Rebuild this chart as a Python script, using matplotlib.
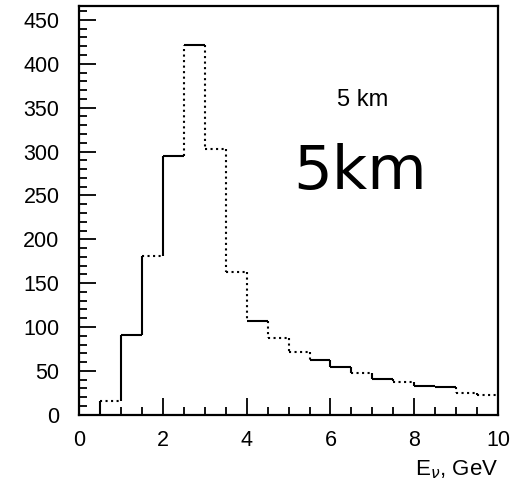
import numpy as np
import matplotlib
matplotlib.use("Agg")
import matplotlib.pyplot as plt
from matplotlib.ticker import MultipleLocator

plt.rcParams['font.family'] = ['Liberation Sans', 'DejaVu Sans']

bin_edges = np.arange(0.5, 10.01, 0.5)
counts = [16, 91, 181, 295, 421, 303, 163, 107, 87, 72, 62, 54, 48, 41, 37, 33, 32, 25, 22]
# scanned line appearance per bin top (solid / dotted)
top_styles = ['dotted', 'solid', 'dotted', 'solid', 'solid', 'dotted', 'dotted', 'solid',
              'dotted', 'dotted', 'solid', 'solid', 'dotted', 'solid', 'dotted', 'solid',
              'solid', 'dotted', 'dotted']
rise_styles = ['solid', 'solid', 'solid', 'dotted', 'dotted', 'dotted', 'dotted', 'dotted',
               'dotted', 'dotted', 'solid', 'solid', 'solid', 'dotted', 'solid', 'solid',
               'dotted', 'dotted']

fig = plt.figure(figsize=(5.13, 4.92), dpi=100)
ax = fig.add_axes([0.154, 0.157, 0.817, 0.831])

ax.hlines(counts, bin_edges[:-1], bin_edges[1:], colors='black', linewidth=1.5,
          linestyles=top_styles)
ax.vlines(bin_edges[1:-1], counts[:-1], counts[1:], colors='black', linewidth=1.5,
          linestyles=rise_styles)
ax.vlines([bin_edges[0]], [0], [counts[0]], colors='black', linewidth=1.5)

ax.set_xlim(0, 10)
ax.set_ylim(0, 466)
ax.xaxis.set_major_locator(MultipleLocator(2))
ax.xaxis.set_minor_locator(MultipleLocator(0.5))
ax.yaxis.set_major_locator(MultipleLocator(50))
ax.yaxis.set_minor_locator(MultipleLocator(10))
ax.tick_params(which='both', direction='in', top=False, right=False, colors='black',
               labelsize=15.5, width=1.3)
ax.tick_params(which='major', length=12)
ax.tick_params(which='minor', length=6)
ax.tick_params(axis='x', which='major', pad=11)
ax.tick_params(axis='y', which='major', pad=14)
for s in ax.spines.values():
    s.set_linewidth(1.6)

ax.text(6.15, 359, '5 km', fontsize=17, ha='left', va='center')
ax.text(5.1, 276, '5km', fontsize=44, ha='left', va='center', fontfamily='DejaVu Sans')
fig.text(0.972, 0.045, r'E$_\nu$, GeV', fontsize=16, ha='right', va='center')

fig.savefig('out.png', dpi=100)
